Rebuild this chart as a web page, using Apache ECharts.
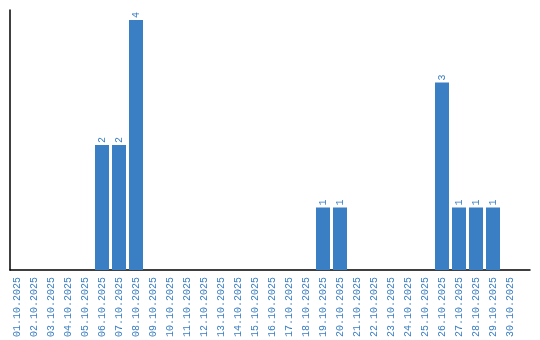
<!DOCTYPE html>
<html><head><meta charset="utf-8">
<script src="https://cdn.jsdelivr.net/npm/echarts@6/dist/echarts.min.js"></script>
<style>html,body{margin:0;padding:0;background:#fff}#c{width:540px;height:340px}</style>
</head><body><div id="c"></div>
<script>
const categories = ["01.10.2025","02.10.2025","03.10.2025","04.10.2025","05.10.2025","06.10.2025","07.10.2025","08.10.2025","09.10.2025","10.10.2025","11.10.2025","12.10.2025","13.10.2025","14.10.2025","15.10.2025","16.10.2025","17.10.2025","18.10.2025","19.10.2025","20.10.2025","21.10.2025","22.10.2025","23.10.2025","24.10.2025","25.10.2025","26.10.2025","27.10.2025","28.10.2025","29.10.2025","30.10.2025"];
const values = [0,0,0,0,0,2,2,4,0,0,0,0,0,0,0,0,0,0,1,1,0,0,0,0,0,3,1,1,1,0];
const blue = '#3a7ec3';
const font = 'Liberation Mono';
const chart = echarts.init(document.getElementById('c'), null, {renderer:'canvas'});
chart.setOption({
  animation:false,
  grid:[
    {left:8.5, right:21.5, top:20, bottom:70},
    {left:10, right:10, top:10, bottom:70}
  ],
  xAxis:[
    {type:'category', data:categories, gridIndex:0,
     axisLine:{show:false}, axisTick:{show:false},
     axisLabel:{rotate:90, interval:0, color:blue, fontFamily:font, fontSize:10, margin:7}},
    {type:'value', gridIndex:1, min:0, max:1,
     axisLine:{show:true, lineStyle:{color:'#000', width:1.5}}, axisTick:{show:false},
     axisLabel:{show:false}, splitLine:{show:false}}
  ],
  yAxis:[
    {type:'value', gridIndex:0, min:0, max:4, axisLine:{show:false}, axisTick:{show:false},
     axisLabel:{show:false}, splitLine:{show:false}},
    {type:'value', gridIndex:1, min:0, max:1,
     axisLine:{show:true, lineStyle:{color:'#000', width:1.5}}, axisTick:{show:false},
     axisLabel:{show:false}, splitLine:{show:false}}
  ],
  series:[{
    type:'bar', xAxisIndex:0, yAxisIndex:0, barWidth:14,
    data: values.map(v => v === 0 ? {value:0, label:{show:false}} : v),
    itemStyle:{color:blue},
    label:{show:true, position:'top', rotate:90, align:'left', verticalAlign:'middle',
      distance:2, color:blue, fontFamily:font, fontSize:10}
  }]
});
</script></body></html>
